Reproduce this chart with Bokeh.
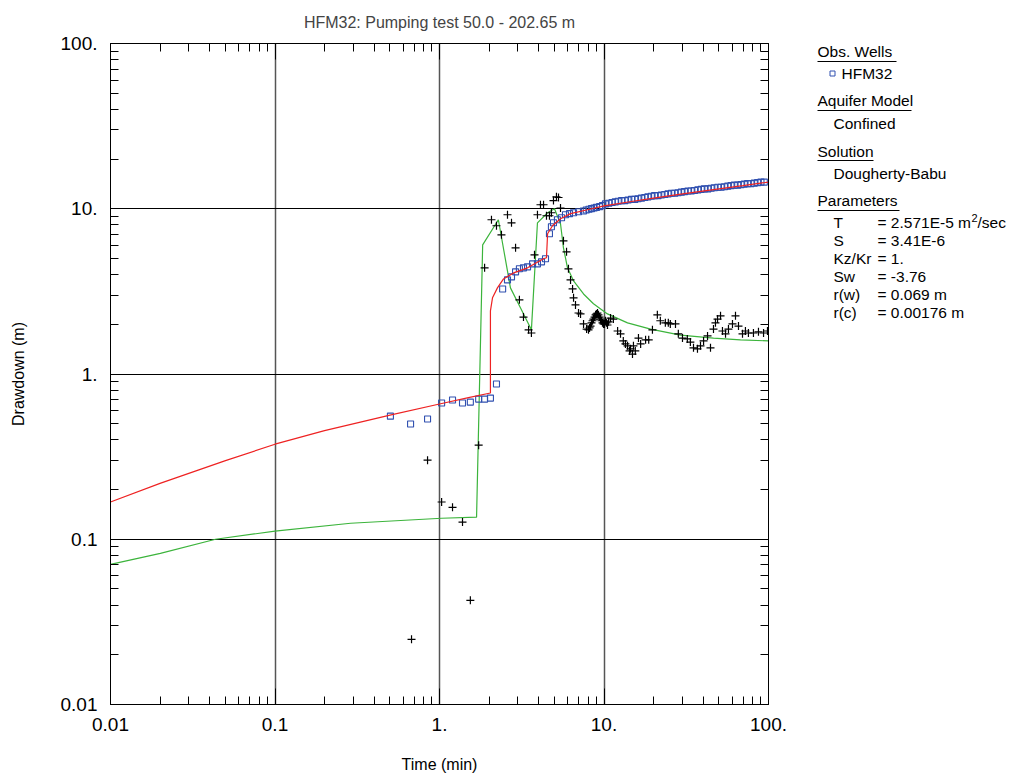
from bokeh.plotting import figure
from bokeh.models import FixedTicker, LogAxis, Range1d
from bokeh.layouts import row
from bokeh.core.properties import value
from bokeh.embed import file_html
from bokeh.resources import INLINE

# ---- observed drawdown, HFM32 (time in min, drawdown in m) ----
obs_t = [0.503, 0.667, 0.846, 1.03, 1.20, 1.38, 1.54, 1.73, 1.88, 2.04, 2.22,
         2.42, 2.59, 2.74, 2.90, 3.06, 3.24, 3.43, 3.68, 3.94, 4.17, 4.41,
         4.66, 4.79, 4.93, 5.21, 5.52, 5.83, 6.17, 6.53, 7.00,
         7.5, 7.8, 8.1, 8.4, 8.7, 9.0, 9.4, 9.8, 10.2, 10.7, 11.2, 11.7, 12.2,
         12.8, 13.4, 14.0, 14.7, 15.4, 16.1, 16.9, 17.7, 18.5, 19.4, 20.3,
         21.3, 22.3, 23.4, 24.5, 25.7, 26.9, 28.2, 29.5, 30.9, 32.4, 33.9,
         35.5, 37.2, 39.0, 40.8, 42.8, 44.8, 46.9, 49.2, 51.5, 54.0, 56.5,
         59.2, 62.0, 65.0, 68.1, 71.3, 74.7, 78.3, 82.0, 85.9, 90.0, 94.3]
obs_s = [0.556, 0.498, 0.534, 0.667, 0.696, 0.667, 0.676, 0.705, 0.705, 0.715, 0.870,
         3.27, 3.71, 3.87, 4.15, 4.33, 4.39, 4.45, 4.64, 4.64, 4.77, 4.98,
         7.06, 7.78, 8.22, 8.58, 8.82, 9.20, 9.34, 9.46, 9.59,
         9.70, 9.82, 9.93, 10.02, 10.10, 10.2, 10.3, 10.45, 10.7, 10.8, 10.9, 11.0, 11.1,
         11.2, 11.2, 11.3, 11.4, 11.4, 11.5, 11.6, 11.7, 11.8, 11.9, 12.0,
         12.0, 12.1, 12.2, 12.3, 12.4, 12.4, 12.5, 12.6, 12.7, 12.8, 12.8,
         12.9, 13.0, 13.1, 13.2, 13.2, 13.3, 13.4, 13.5, 13.5, 13.6, 13.7,
         13.8, 13.9, 13.9, 14.0, 14.1, 14.2, 14.2, 14.3, 14.4, 14.5, 14.5]

# ---- observed derivative ----
der_t = [0.676, 0.846, 1.03, 1.20, 1.38, 1.54, 1.73, 1.88, 2.07, 2.22, 2.38,
         2.59, 2.74, 2.90, 3.06, 3.24, 3.48, 3.62, 3.78, 3.94, 4.11, 4.29,
         4.47, 4.66, 4.79, 4.93, 5.14, 5.29, 5.44, 5.67, 5.92, 6.08, 6.26,
         6.44, 6.53, 6.71, 7.00, 7.20, 7.51, 7.84, 8.05, 8.17, 8.28, 8.40,
         8.52, 8.63, 8.76, 8.89, 9.01, 9.13, 9.26, 9.39, 9.52, 9.65, 9.79,
         9.93, 10.07, 10.2, 10.35, 10.5, 10.65, 10.96, 11.4, 12.1, 12.6,
         13.1, 13.5, 13.9, 14.3, 14.5, 14.9, 15.1, 15.5, 16.2, 16.7, 17.9,
         18.7, 19.7, 21.1, 22.0, 23.6, 24.6, 25.3, 27.2, 28.3, 30.0, 32.1,
         33.5, 35.0, 37.0, 38.6, 40.3, 42.6, 44.4, 46.3, 47.6, 49.0, 51.1,
         52.5, 54.8, 57.1, 60.4, 63.0, 65.7, 69.5, 72.4, 75.5, 81.0, 86.9,
         93.3, 98.6]
der_s = [0.0248, 0.301, 0.168, 0.156, 0.127, 0.0427, 0.371, 4.39, 8.58, 7.89, 6.95,
         9.20, 8.22, 5.80, 2.81, 2.21, 1.85, 1.77, 5.26, 9.20, 10.57, 10.57,
         9.07, 9.07, 9.46, 11.2, 11.8, 11.7, 10.1, 6.40, 5.49, 4.33, 3.71,
         3.27, 2.89, 2.62, 2.34, 2.31, 2.01, 1.87, 1.85, 1.90, 1.95, 2.04,
         2.10, 2.15, 2.21, 2.28, 2.31, 2.34, 2.28, 2.21, 2.15, 2.10, 2.04,
         2.01, 2.01, 2.10, 2.04, 1.98, 2.07, 2.18, 2.15, 1.82, 1.75,
         1.585, 1.52, 1.48, 1.38, 1.42, 1.32, 1.48, 1.38, 1.65, 1.52, 1.61,
         1.61, 1.85, 2.28, 2.10, 2.04, 2.04, 2.01, 2.01, 1.75, 1.65, 1.63,
         1.56, 1.44, 1.42, 1.48, 1.585, 1.70, 1.44, 1.87, 2.04, 2.15, 2.25,
         1.82, 1.75, 1.87, 2.01, 2.25, 1.95, 1.75, 1.82, 1.77, 1.77, 1.80,
         1.77, 1.82]

# ---- Dougherty-Babu type curve (drawdown) ----
fit_t = [0.01, 0.02, 0.05, 0.1, 0.2, 0.5, 1.0, 1.5, 2.04, 2.04, 2.10, 2.25,
         2.45, 2.82, 3.43, 4.29, 4.47, 4.54, 4.86, 5.44, 6.26, 7.94, 10.0,
         15.0, 20.0, 30.0, 50.0, 70.0, 100.0]
fit_s = [0.168, 0.218, 0.299, 0.376, 0.454, 0.564, 0.658, 0.719, 0.767, 2.41, 2.89, 3.32,
         3.76, 4.09, 4.39, 4.98, 5.05, 7.06, 7.89, 8.70, 9.34, 9.86, 10.4,
         11.1, 11.6, 12.3, 13.2, 13.8, 14.5]

# ---- type curve derivative ----
fitd_t = [0.01, 0.0201, 0.0435, 0.1, 0.288, 1.03, 1.68, 1.83, 2.28, 2.70, 3.11,
          3.62, 3.94, 4.54, 5.00, 5.44, 5.67, 6.00, 6.53, 7.51, 8.63, 10.5,
          13.9, 19.2, 29.2, 46.3, 67.6, 100.0]
fitd_s = [0.0705, 0.0822, 0.100, 0.112, 0.125, 0.134, 0.136, 6.05, 8.58, 3.32, 2.51,
          1.85, 8.22, 9.46, 10.0, 8.11, 5.80, 4.39, 3.66, 3.05, 2.66, 2.31,
          2.04, 1.87, 1.72, 1.65, 1.61, 1.585]

major_ticks = [0.01, 0.1, 1, 10, 100]
minor_ticks = [m * d for d in (0.01, 0.1, 1, 10) for m in range(2, 10)]
tick_labels = {0.01: "0.01", 0.1: "0.1", 1: "1.", 10: "10.", 100: "100."}

FONT = "Liberation Sans"
BLUE = "#3050b0"
RED = "#ee2222"
GREEN = "#3cb43c"

TOP, BOTTOM = 43, 704   # frame edges in page pixels

p = figure(width=790, height=778, x_axis_type="log", y_axis_type="log",
           x_range=Range1d(0.01, 100), y_range=Range1d(0.01, 100),
           output_backend="svg", toolbar_location=None,
           min_border_left=110, min_border_right=22,
           min_border_top=TOP, min_border_bottom=778 - BOTTOM,
           title="HFM32: Pumping test 50.0 - 202.65 m")
p.title.text_font = FONT
p.title.text_font_size = "16px"
p.title.text_font_style = "normal"
p.title.align = "center"
p.title.vertical_align = "top"
p.title.standoff = 22
p.outline_line_color = "black"

p.add_layout(LogAxis(), "above")
p.add_layout(LogAxis(), "right")

bottom, left = p.below[0], p.left[0]
top, right = p.above[0], p.right[0]

for ax in (bottom, left, top, right):
    ax.ticker = FixedTicker(ticks=major_ticks, minor_ticks=minor_ticks)
    ax.major_tick_in = 16
    ax.major_tick_out = 0
    ax.minor_tick_in = 8
    ax.minor_tick_out = 0
    ax.axis_line_color = "black"
    ax.major_tick_line_color = "black"
    ax.minor_tick_line_color = "black"
    ax.major_label_text_font = FONT
    ax.axis_label_text_font = FONT
    ax.axis_label_text_font_style = "normal"
    ax.axis_label_text_font_size = "16px"
    ax.axis_label_text_color = "black"

# frame-side axes only carry ticks
for ax in (top, right):
    ax.major_label_text_font_size = "1px"
    ax.major_label_text_color = None
    ax.major_label_standoff = 0

for ax in (bottom, left):
    ax.major_label_overrides = tick_labels
    ax.major_label_text_font_size = "19px"
    ax.major_label_text_color = "black"
    ax.major_label_standoff = 13

bottom.axis_label = "Time (min)"
bottom.axis_label_standoff = 22
left.axis_label = "Drawdown (m)"
left.axis_label_standoff = 31

p.xgrid.grid_line_color = "#555555"
p.xgrid.grid_line_width = 1.5
p.ygrid.grid_line_color = "black"
p.ygrid.grid_line_width = 1

p.line(fitd_t, fitd_s, line_color=GREEN, line_width=1.2)
p.scatter(der_t, der_s, marker="cross", size=8, line_color="black", line_width=1.2)
p.scatter(obs_t, obs_s, marker="square", size=6, fill_color=None,
          line_color=BLUE, line_width=1.1)
p.line(fit_t, fit_s, line_color=RED, line_width=1.2)

# ---- side panel with well, model and parameter text ----
# its frame lines up with the main frame, so the range is set in page pixels
leg = figure(width=222, height=778, x_range=Range1d(790, 1012),
             y_range=Range1d(BOTTOM, TOP),
             output_backend="svg", toolbar_location=None, min_border=0,
             min_border_top=TOP, min_border_bottom=778 - BOTTOM,
             x_axis_location=None, y_axis_location=None)
leg.grid.visible = False
leg.outline_line_color = None

text_kw = dict(text_font=value(FONT), text_font_size=value("15.5px"), text_color="black",
               text_baseline="alphabetic", text_align="left")

heads = ["Obs. Wells", "Aquifer Model", "Solution", "Parameters"]
head_y = [51, 100, 151, 200]
head_end = [896, 911, 873, 899]
rule_y = [61, 110, 160, 210]
leg.text(x=[817] * 4, y=head_y, text=heads, **text_kw)
leg.segment(x0=[817] * 4, y0=rule_y, x1=head_end, y1=rule_y,
            line_color="black", line_width=1)

items = ["Confined", "Dougherty-Babu"]
leg.text(x=[833, 833], y=[123, 173], text=items, **text_kw)
leg.text(x=[841], y=[73], text=["HFM32"], **text_kw)
leg.scatter(x=[832], y=[73], marker="square", size=5, fill_color=None,
            line_color=BLUE, line_width=1)

par_names = ["T", "S", "Kz/Kr", "Sw", "r(w)", "r(c)"]
par_vals = ["= 2.571E-5 m", "= 3.41E-6", "= 1.", "= -3.76", "= 0.069 m", "= 0.00176 m"]
par_y = [222, 240, 258, 276, 294, 312]
leg.text(x=[833] * 6, y=par_y, text=par_names, **text_kw)
leg.text(x=[877] * 6, y=par_y, text=par_vals, **text_kw)
sup_kw = dict(text_kw)
sup_kw["text_font_size"] = value("11px")
leg.text(x=[971], y=[217], text=["2"], **sup_kw)
leg.text(x=[977], y=[222], text=["/sec"], **text_kw)

layout = row(p, leg)
open("out.html", "w").write(file_html(layout, INLINE))
